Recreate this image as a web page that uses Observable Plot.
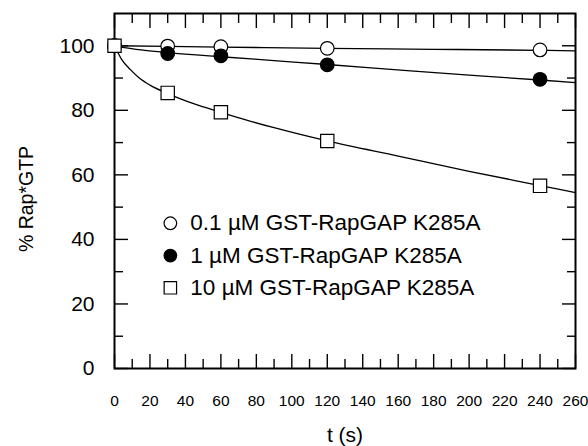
<!DOCTYPE html>
<html><head><meta charset="utf-8">
<script src="https://cdn.jsdelivr.net/npm/d3@7"></script>
<script src="https://cdn.jsdelivr.net/npm/@observablehq/plot@0.6"></script>
<style>body{margin:0;background:#fff} svg{display:block}</style>
</head><body><div id="chart"></div>
<script>
// Measured points
const times = [0, 30, 60, 120, 240];
const conc01 = [100, 99.9, 99.7, 99.2, 98.7];   // 0.1 µM, open circles
const conc1  = [100, 97.6, 96.9, 94.1, 89.6];   // 1 µM, filled circles
const conc10 = [100, 85.4, 79.4, 70.5, 56.6];   // 10 µM, open squares

// Fitted curves
const fit01T = [0, 60, 120, 180, 240, 260];
const fit01V = [100, 99.6, 99.2, 98.9, 98.6, 98.4];
const fit1T = [0, 15, 30, 60, 90, 120, 167, 200, 240, 260];
const fit1V = [100, 98.7, 97.9, 96.6, 95.4, 94.2, 92.2, 90.9, 89.4, 88.6];
const fit10T = [0, 4, 9, 14, 20, 30, 45, 60, 75, 90, 120, 160, 200, 240, 260];
const fit10V = [100, 95.8, 92.6, 90.0, 87.8, 85.2, 82.0, 79.4, 76.9, 74.6, 70.5, 65.8, 61.1, 56.7, 54.5];

// Legend
const seriesLabels = ["0.1 µM GST-RapGAP K285A", "1 µM GST-RapGAP K285A", "10 µM GST-RapGAP K285A"];

// Ticks
const xMajor = [0, 20, 40, 60, 80, 100, 120, 140, 160, 180, 200, 220, 240, 260];
const xMinor = [10, 30, 50, 70, 90, 110, 130, 150, 170, 190, 210, 230, 250];
const yMajor = [0, 20, 40, 60, 80, 100];
const yMinor = [10, 30, 50, 70, 90];

// Layout constants for the in-plot legend (data coordinates)
const legendX = 31.5;
const legendY = [45, 35, 25];

const pts = v => times.map((t, i) => ({t, v: v[i]}));
const fit = (T, V) => T.map((t, i) => ({t, v: V[i]}));
const legend = seriesLabels.map((label, i) => ({label, y: legendY[i]}));

const font = "'Liberation Sans', Arial, sans-serif";
const tickOpts = (anchor, size) => ({anchor, tickSize: -size, tickFormat: () => "", strokeWidth: 1.4, label: null});

const chart = Plot.plot({
  width: 588, height: 446,
  marginLeft: 114, marginRight: 13, marginTop: 13, marginBottom: 78,
  x: {domain: [0, 260]},
  y: {domain: [0, 110]},
  style: {fontFamily: font, color: "black", background: "white"},
  marks: [
    // inward ticks on all four sides
    Plot.axisX(xMajor, tickOpts("bottom", 14)),
    Plot.axisX(xMinor, tickOpts("bottom", 9)),
    Plot.axisX(xMajor, tickOpts("top", 14)),
    Plot.axisX(xMinor, tickOpts("top", 9)),
    Plot.axisY(yMajor, tickOpts("left", 14)),
    Plot.axisY(yMinor, tickOpts("left", 9)),
    Plot.axisY(yMajor, tickOpts("right", 14)),
    Plot.axisY(yMinor, tickOpts("right", 9)),
    // tick labels
    Plot.axisX(xMajor, {anchor: "bottom", tickSize: 0, tickPadding: 26, fontSize: 15.5, fill: "black", label: null}),
    Plot.axisY(yMajor, {anchor: "left", tickSize: 0, tickPadding: 20, fontSize: 21, fill: "black", label: null}),
    // axis titles
    Plot.text(["t (s)"], {frameAnchor: "bottom", dy: 67, fontSize: 21, textAnchor: "middle", lineAnchor: "middle", fill: "black"}),
    Plot.text(["% Rap*GTP"], {frameAnchor: "left", dx: -88, dy: 8, rotate: -90, fontSize: 19.5, textAnchor: "middle", lineAnchor: "middle", fill: "black"}),
    Plot.frame({stroke: "black", strokeWidth: 2}),
    // fitted curves
    Plot.line(fit(fit01T, fit01V), {x: "t", y: "v", curve: "monotone-x", stroke: "black", strokeWidth: 1.3}),
    Plot.line(fit(fit1T, fit1V), {x: "t", y: "v", curve: "monotone-x", stroke: "black", strokeWidth: 1.3}),
    Plot.line(fit(fit10T, fit10V), {x: "t", y: "v", curve: "monotone-x", stroke: "black", strokeWidth: 1.3}),
    // data points
    Plot.dot(pts(conc01), {x: "t", y: "v", r: 6.8, fill: "white", stroke: "black", strokeWidth: 1.2}),
    Plot.dot(pts(conc1), {x: "t", y: "v", r: 6.8, fill: "black", stroke: "black", strokeWidth: 1.2}),
    Plot.dot(pts(conc10), {x: "t", y: "v", r: 7.5, symbol: "square", fill: "white", stroke: "black", strokeWidth: 1.2}),
    // legend
    Plot.dot([legend[0]], {x: () => legendX, y: "y", r: 6.3, fill: "white", stroke: "black", strokeWidth: 1.2}),
    Plot.dot([legend[1]], {x: () => legendX, y: "y", r: 6.3, fill: "black", stroke: "black", strokeWidth: 1.2}),
    Plot.dot([legend[2]], {x: () => legendX, y: "y", r: 7, symbol: "square", fill: "white", stroke: "black", strokeWidth: 1.2}),
    Plot.text(legend, {x: () => legendX, y: "y", text: "label", textAnchor: "start", dx: 20, fontSize: 22.5, fill: "black"})
  ]
});
document.getElementById("chart").append(chart);
</script>
</body></html>
